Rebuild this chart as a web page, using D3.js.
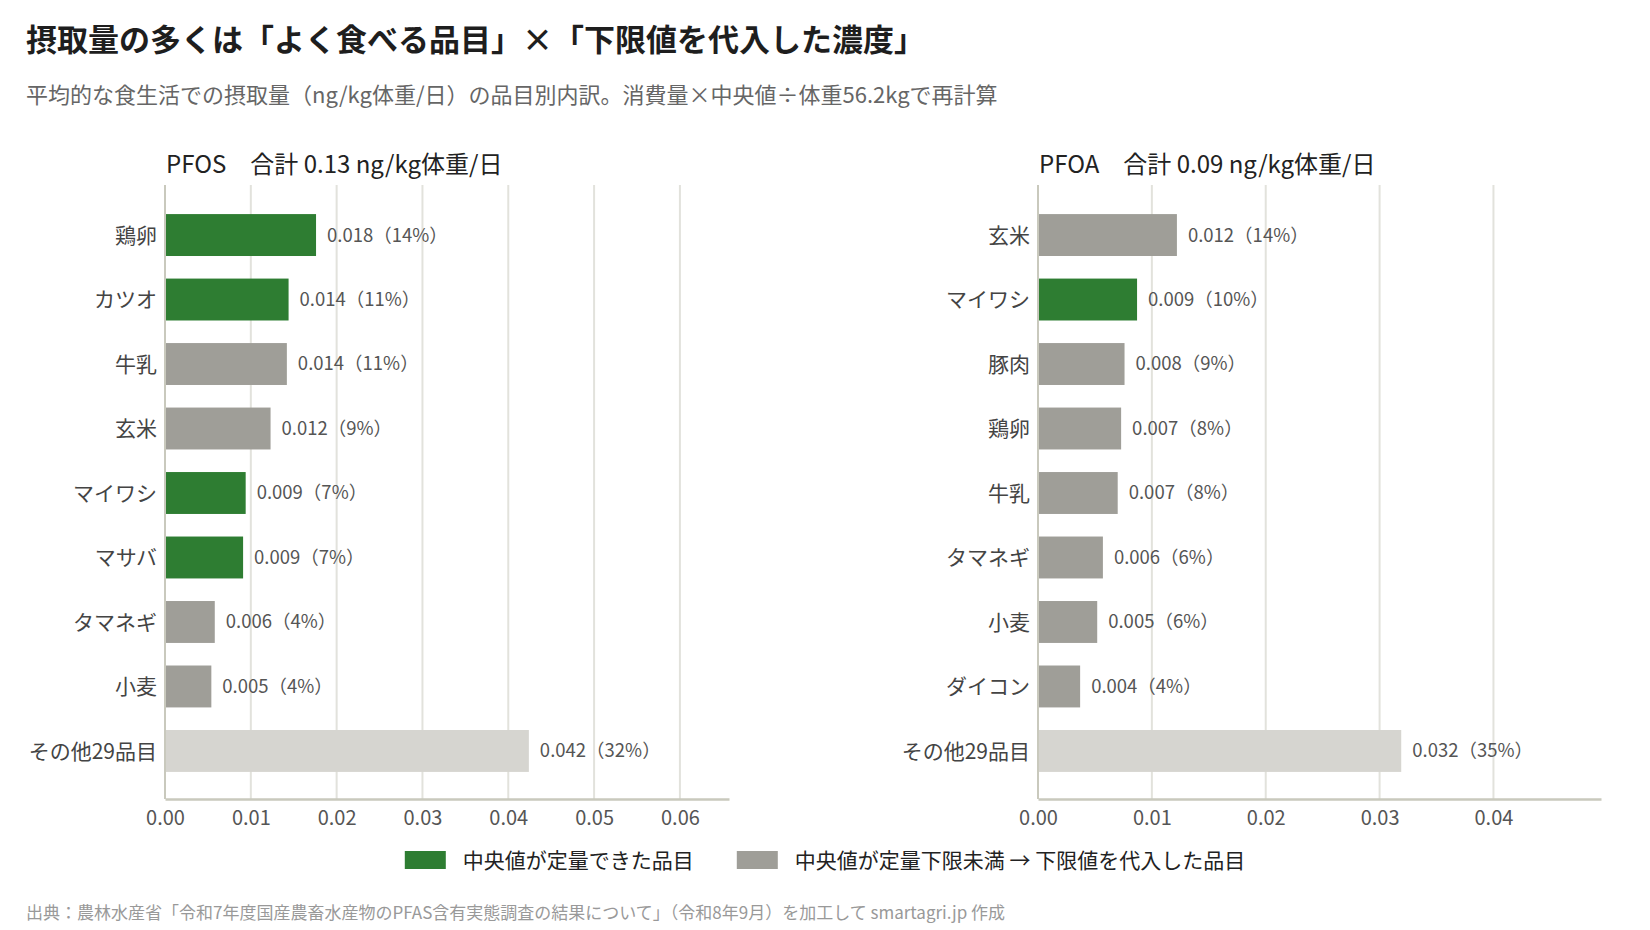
<!DOCTYPE html>
<head>
  <meta charset="utf-8">
  <script src="https://cdn.jsdelivr.net/npm/d3@7"></script>
  <style>
    body { margin: 0; background: #fff; }
    svg text { font-family: "Noto Sans CJK JP", "Noto Sans", sans-serif; }
  </style>
</head>
<body>
<svg width="1650" height="930"></svg>

<script type="text/javascript">

// PFOS items, top to bottom
var pfos_items  = ["鶏卵", "カツオ", "牛乳", "玄米", "マイワシ", "マサバ", "タマネギ", "小麦", "その他29品目"];
var pfos_values = [0.0176, 0.0144, 0.0142, 0.0123, 0.0094, 0.0091, 0.0058, 0.0054, 0.0424];
var pfos_pct    = [14, 11, 11, 9, 7, 7, 4, 4, 32];
var pfos_status = ["q", "q", "lod", "lod", "q", "q", "lod", "lod", "other"];

// PFOA items
var pfoa_items  = ["玄米", "マイワシ", "豚肉", "鶏卵", "牛乳", "タマネギ", "小麦", "ダイコン", "その他29品目"];
var pfoa_values = [0.0122, 0.0087, 0.0076, 0.0073, 0.0070, 0.0057, 0.0052, 0.0037, 0.0319];
var pfoa_pct    = [14, 10, 9, 8, 8, 6, 6, 4, 35];
var pfoa_status = ["lod", "q", "lod", "lod", "lod", "lod", "lod", "lod", "other"];

var panel_titles = ["PFOS\u3000合計 0.13 ng/kg体重/日", "PFOA\u3000合計 0.09 ng/kg体重/日"];
var legend_labels = ["中央値が定量できた品目", "中央値が定量下限未満 → 下限値を代入した品目"];

var colors = { q: "#2e7d32", lod: "#9f9e98", other: "#d6d5d0" };

var svg = d3.select("svg");

// headings
svg.append("text")
    .attr("x", 26).attr("y", 51)
    .text("摂取量の多くは「よく食べる品目」×「下限値を代入した濃度」")
    .style("font-size", "31px").style("font-weight", "bold").style("fill", "#1e1e1e");

svg.append("text")
    .attr("x", 26).attr("y", 103)
    .text("平均的な食生活での摂取量（ng/kg体重/日）の品目別内訳。消費量×中央値÷体重56.2kgで再計算")
    .style("font-size", "22px").style("fill", "#666");

var plotTop = 185, plotBottom = 799;

function drawPanel(x0, x1, title, items, values, pct, status) {
  var data = items.map(function(d, i) {
    return { item: d, value: values[i], pct: pct[i], status: status[i] };
  });

  var x = d3.scaleLinear()
      .domain([0, d3.max(values) * 1.55])
      .range([x0, x1]);
  var y = d3.scaleBand()
      .domain(items)
      .range([plotTop + 2, plotBottom])
      .paddingInner(0.35)
      .paddingOuter(0.42);

  var g = svg.append("g");
  var ticks = d3.range(0, x.domain()[1], 0.01);

  // vertical grid
  g.selectAll("line.grid")
      .data(ticks.slice(1))
    .enter()
    .append("line")
      .attr("x1", function(d) { return x(d); })
      .attr("x2", function(d) { return x(d); })
      .attr("y1", plotTop).attr("y2", plotBottom)
      .style("stroke", "#e2e2dc").style("stroke-width", 2);

  // bars
  g.selectAll("rect")
      .data(data)
    .enter()
    .append("rect")
      .attr("x", x(0))
      .attr("y", function(d) { return y(d.item); })
      .attr("width", function(d) { return x(d.value) - x(0); })
      .attr("height", y.bandwidth())
      .style("fill", function(d) { return colors[d.status]; });

  // value labels
  g.selectAll("text.val")
      .data(data)
    .enter()
    .append("text")
      .attr("x", function(d) { return x(d.value) + 11; })
      .attr("y", function(d) { return y(d.item) + y.bandwidth() / 2; })
      .attr("dy", "0.35em")
      .text(function(d) { return d3.format(".3f")(d.value) + "（" + d.pct + "%）"; })
      .style("font-size", "18.5px").style("fill", "#555");

  // category labels
  g.selectAll("text.cat")
      .data(data)
    .enter()
    .append("text")
      .attr("x", x0 - 8)
      .attr("y", function(d) { return y(d.item) + y.bandwidth() / 2; })
      .attr("dy", "0.36em")
      .attr("text-anchor", "end")
      .text(function(d) { return d.item; })
      .style("font-size", "21px").style("fill", "#444");

  // axes
  var xAxis = g.append("g")
      .attr("transform", "translate(0," + plotBottom + ")")
      .call(d3.axisBottom(x).tickValues(ticks).tickFormat(d3.format(".2f")).tickSize(0).tickPadding(12));
  xAxis.select(".domain").style("stroke", "#c9c9bd").style("stroke-width", 2.5);
  xAxis.selectAll("text")
      .style("font-size", "20px").style("fill", "#555")
      .style("font-family", "\"Noto Sans CJK JP\", sans-serif");

  g.append("line")
      .attr("x1", x0).attr("x2", x0)
      .attr("y1", plotTop).attr("y2", plotBottom)
      .style("stroke", "#c9c9bd").style("stroke-width", 2);

  g.append("text")
      .attr("x", x0 + 1).attr("y", 173)
      .text(title)
      .style("font-size", "24px").style("fill", "#222");
}

drawPanel(165, 729, panel_titles[0], pfos_items, pfos_values, pfos_pct, pfos_status);
drawPanel(1038, 1601, panel_titles[1], pfoa_items, pfoa_values, pfoa_pct, pfoa_status);

// legend, centred under both panels
var legend = svg.append("g");
var legendKeys = ["q", "lod"];
var cursor = 0;
legendKeys.forEach(function(k, i) {
  var item = legend.append("g").attr("transform", "translate(" + cursor + ",0)");
  item.append("rect")
      .attr("x", 0).attr("y", -9)
      .attr("width", 41).attr("height", 18)
      .style("fill", colors[k]);
  var t = item.append("text")
      .attr("x", 58).attr("dy", "0.36em")
      .text(legend_labels[i])
      .style("font-size", "21px").style("fill", "#222");
  cursor += 58 + t.node().getComputedTextLength() + 43;
});
var legendWidth = cursor - 43;
legend.attr("transform", "translate(" + (825 - legendWidth / 2) + ",860)");

// source
svg.append("text")
    .attr("x", 26).attr("y", 919)
    .text("出典：農林水産省「令和7年度国産農畜水産物のPFAS含有実態調査の結果について」（令和8年9月）を加工して smartagri.jp 作成")
    .style("font-size", "17px").style("fill", "#999");

</script>

</body>
</html>
